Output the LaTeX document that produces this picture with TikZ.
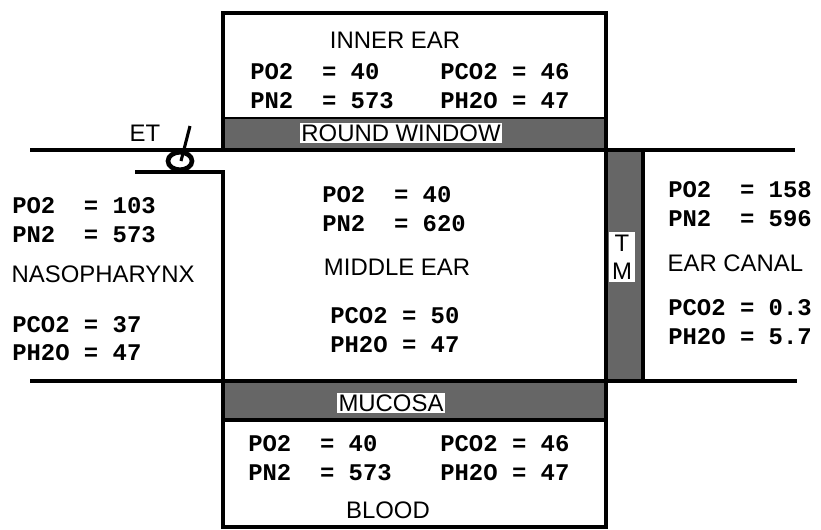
\documentclass[tikz,border=0pt]{standalone}
\usepackage{fontspec}
\setmainfont{Liberation Sans}
\newfontfamily\valfont{Liberation Mono}

\tikzset{
	wall/.style={line width=3.3pt},
	tissue/.style={fill=black!60},
	val/.style={anchor=west,inner sep=0pt,font=\valfont\bfseries\fontsize{17}{20}\selectfont},
	lbl/.style={inner sep=1pt,font=\fontsize{17}{20}\selectfont},
	tag/.style={lbl,fill=white}
}

\begin{document}
\begin{tikzpicture}[x=0.025cm,y=-0.025cm]
	\useasboundingbox (0,0) rectangle (821,529);

	% tissues
	\fill[tissue] (223,118) rectangle (606,150);
	\fill[tissue] (223,381) rectangle (606,420);
	\fill[tissue] (606,150) rectangle (643,381);
	\draw[thick] (223,118) -- (606,118);

	% walls
	\draw[wall] (223,150) |- (606,13) -- (606,527) -| (223,381);
	\draw[wall] (30,150) -- (795,150);
	\draw[wall] (30,381) -- (797,381);
	\draw[wall] (135,172) -| (223,381);
	\draw[wall] (643,150) -- (643,381);
	\draw[wall] (223,420) -- (606,420);

	% eustachian tube
	\draw[wall] (180,161) ellipse [x radius=0.3cm,y radius=0.22cm];
	\draw[line width=2.2pt] (181,161) -- (190,126);
	\node[lbl] (et) at (145,133) {ET};

	% inner ear
	\node[lbl] (inner) at (395,40) {INNER EAR};
	\node[val] (ieo) at (250,72) {PO2\ \ = 40};
	\node[val] (ien) at (250,101) {PN2\ \ = 573};
	\node[val] (iec) at (440,72) {PCO2 = 46};
	\node[val] (ieh) at (440,101) {PH2O = 47};
	\node[tag] (round) at (401,133) {ROUND WINDOW};

	% middle ear
	\node[val] (meo) at (322,195) {PO2\ \ = 40};
	\node[val] (men) at (322,224) {PN2\ \ = 620};
	\node[lbl] (middle) at (397,267) {MIDDLE EAR};
	\node[val] (mec) at (330,316) {PCO2 = 50};
	\node[val] (meh) at (330,345) {PH2O = 47};

	% nasopharynx
	\node[val] (npo) at (12,206) {PO2\ \ = 103};
	\node[val] (npn) at (12,235) {PN2\ \ = 573};
	\node[lbl,anchor=west] (naso) at (10,274) {NASOPHARYNX};
	\node[val] (npc) at (12,325) {PCO2 = 37};
	\node[val] (nph) at (12,353) {PH2O = 47};

	% ear canal
	\node[val] (eco) at (668,190) {PO2\ \ = 158};
	\node[val] (ecn) at (668,219) {PN2\ \ = 596};
	\node[lbl,anchor=west] (canal) at (666,263) {EAR CANAL};
	\node[val] (ecc) at (668,308) {PCO2 = 0.3};
	\node[val] (ech) at (668,337) {PH2O = 5.7};

	% tympanic membrane
	\node[tag,align=center,inner sep=2pt] (tm) at (622,257) {T\\M};

	% blood
	\node[tag] (mucosa) at (391,403) {MUCOSA};
	\node[val] (blo) at (248,444) {PO2\ \ = 40};
	\node[val] (bln) at (248,473) {PN2\ \ = 573};
	\node[val] (blc) at (440,444) {PCO2 = 46};
	\node[val] (blh) at (440,473) {PH2O = 47};
	\node[lbl] (blood) at (388,510) {BLOOD};
\end{tikzpicture}
\end{document}
